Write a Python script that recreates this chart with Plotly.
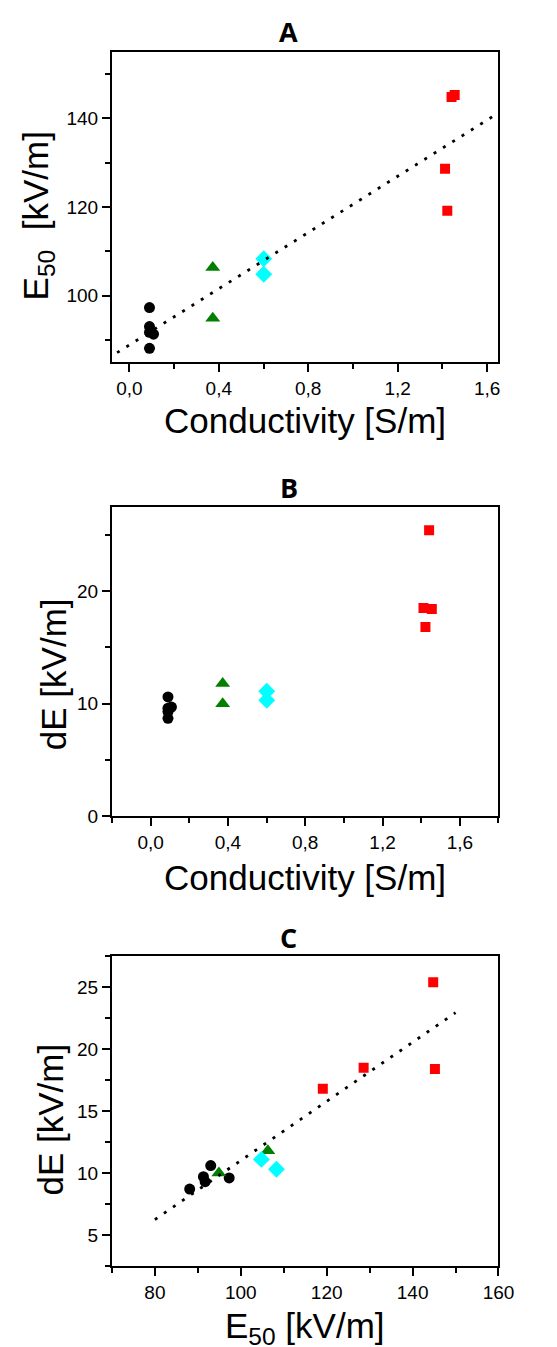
import numpy as np
import plotly.graph_objects as go

# ---------------- data ----------------
# conductivity [S/m], E50 [kV/m], dE [kV/m] per sample group
cond_black = [0.09, 0.09, 0.108, 0.09, 0.09]
e50_black = [97.3, 93.0, 91.3, 91.7, 88.1]
de_black = [9.6, 10.6, 9.7, 9.3, 8.7]

cond_green = [0.373, 0.373]
e50_green = [106.3, 94.9]
de_green = [11.8, 10.0]

cond_cyan = [0.601, 0.601]
e50_cyan = [108.3, 104.8]
de_cyan = [10.3, 11.1]

cond_red = [1.412, 1.422, 1.441, 1.455]
e50_red = [128.6, 119.1, 144.8, 145.2]
de_red = [18.5, 16.8, 25.4, 18.4]

panel_titles = ["A", "B", "C"]

W, H = 557, 1347

groups = [
    (cond_black, e50_black, de_black, "black", "circle", 11),
    (cond_green, e50_green, de_green, "#007f00", "triangle-up", 13),
    (cond_cyan, e50_cyan, de_cyan, "#00ffff", "diamond", 13),
    (cond_red, e50_red, de_red, "#ff0000", "square", 10),
]

fig = go.Figure()

# panel A: E50 vs conductivity, panel B: dE vs conductivity, panel C: dE vs E50
for cond, e50, de, col, sym, sz in groups:
    mk = dict(color=col, symbol=sym, size=sz, line=dict(width=0))
    fig.add_trace(go.Scatter(x=cond, y=e50, mode="markers", marker=mk, xaxis="x", yaxis="y", showlegend=False))
    fig.add_trace(go.Scatter(x=cond, y=de, mode="markers", marker=mk, xaxis="x2", yaxis="y2", showlegend=False))
    fig.add_trace(go.Scatter(x=e50, y=de, mode="markers", marker=mk, xaxis="x3", yaxis="y3", showlegend=False))

all_cond = np.array(cond_black + cond_green + cond_cyan + cond_red)
all_e50 = np.array(e50_black + e50_green + e50_cyan + e50_red)
all_de = np.array(de_black + de_green + de_cyan + de_red)

fit_line = dict(color="black", width=2.8, dash="3px,8px")

# linear fits
kA, bA = np.polyfit(all_cond, all_e50, 1)
xA = np.array([-0.055, 1.625])
fig.add_trace(go.Scatter(x=xA, y=kA * xA + bA, mode="lines", line=fit_line,
                         xaxis="x", yaxis="y", showlegend=False))
kC, bC = np.polyfit(all_e50, all_de, 1)
xC = np.array([80, 150])
fig.add_trace(go.Scatter(x=xC, y=kC * xC + bC, mode="lines", line=fit_line,
                         xaxis="x3", yaxis="y3", showlegend=False))

tickfont = dict(family="Liberation Sans, Arial", size=19, color="black")


def ax(rng, dtick, mdtick, domain, anchor, fmt=None):
    d = dict(range=rng, dtick=dtick, tick0=0, domain=domain, anchor=anchor,
             showline=True, linewidth=2, linecolor="black", mirror=True,
             ticks="outside", ticklen=8, tickwidth=1.5, tickcolor="black",
             showgrid=False, zeroline=False, tickfont=tickfont,
             minor=dict(ticks="outside", ticklen=5, tickwidth=1.5, tickcolor="black",
                        dtick=mdtick, tick0=0, showgrid=False))
    if fmt:
        d["tickformat"] = fmt
    return d


xdom = [107 / W, 505 / W]


def ydom(top, bottom):
    return [1 - bottom / H, 1 - top / H]


fig.update_layout(
    width=W, height=H, margin=dict(l=0, r=0, t=0, b=0),
    paper_bgcolor="white", plot_bgcolor="white",
    separators=", ",
    xaxis=ax([-0.078, 1.651], 0.4, 0.2, xdom, "y", ".1f"),
    yaxis=ax([85, 155], 20, 10, ydom(44, 357), "x"),
    xaxis2=ax([-0.2, 1.8], 0.4, 0.2, xdom, "y2", ".1f"),
    yaxis2=ax([0, 27.5], 10, 5, ydom(502.7, 815), "x2"),
    xaxis3=ax([70, 160], 20, 10, xdom, "y3"),
    yaxis3=ax([2.5, 27.5], 5, 2.5, ydom(956, 1268.3), "x3"),
)

ann = []
for t, ypx in zip(panel_titles, [24, 483, 937]):
    ann.append(dict(text="<b>" + t + "</b>", x=289 / W, y=1 - ypx / H, xref="paper", yref="paper",
                    xanchor="center", yanchor="middle", showarrow=False,
                    font=dict(family="Open Sans", size=27, color="black")))

tf = dict(family="Liberation Sans, Arial", size=35, color="black")
# x-axis titles
for txt, ypx in [("Conductivity [S/m]", 416), ("Conductivity [S/m]", 877), ("E<sub>50</sub> [kV/m]", 1331)]:
    ann.append(dict(text=txt, x=306 / W, y=1 - ypx / H, xref="paper", yref="paper",
                    xanchor="center", yanchor="middle", showarrow=False, font=tf))
# y-axis titles
for txt, xpx, ypx in [("E<sub>50</sub>  [kV/m]", 31, 210), ("dE [kV/m]", 47, 672), ("dE [kV/m]", 44, 1121)]:
    ann.append(dict(text=txt, x=xpx / W, y=1 - ypx / H, xref="paper", yref="paper", textangle=-90,
                    xanchor="center", yanchor="middle", showarrow=False, font=tf))

fig.update_layout(annotations=ann)

fig.write_html("out.html")
